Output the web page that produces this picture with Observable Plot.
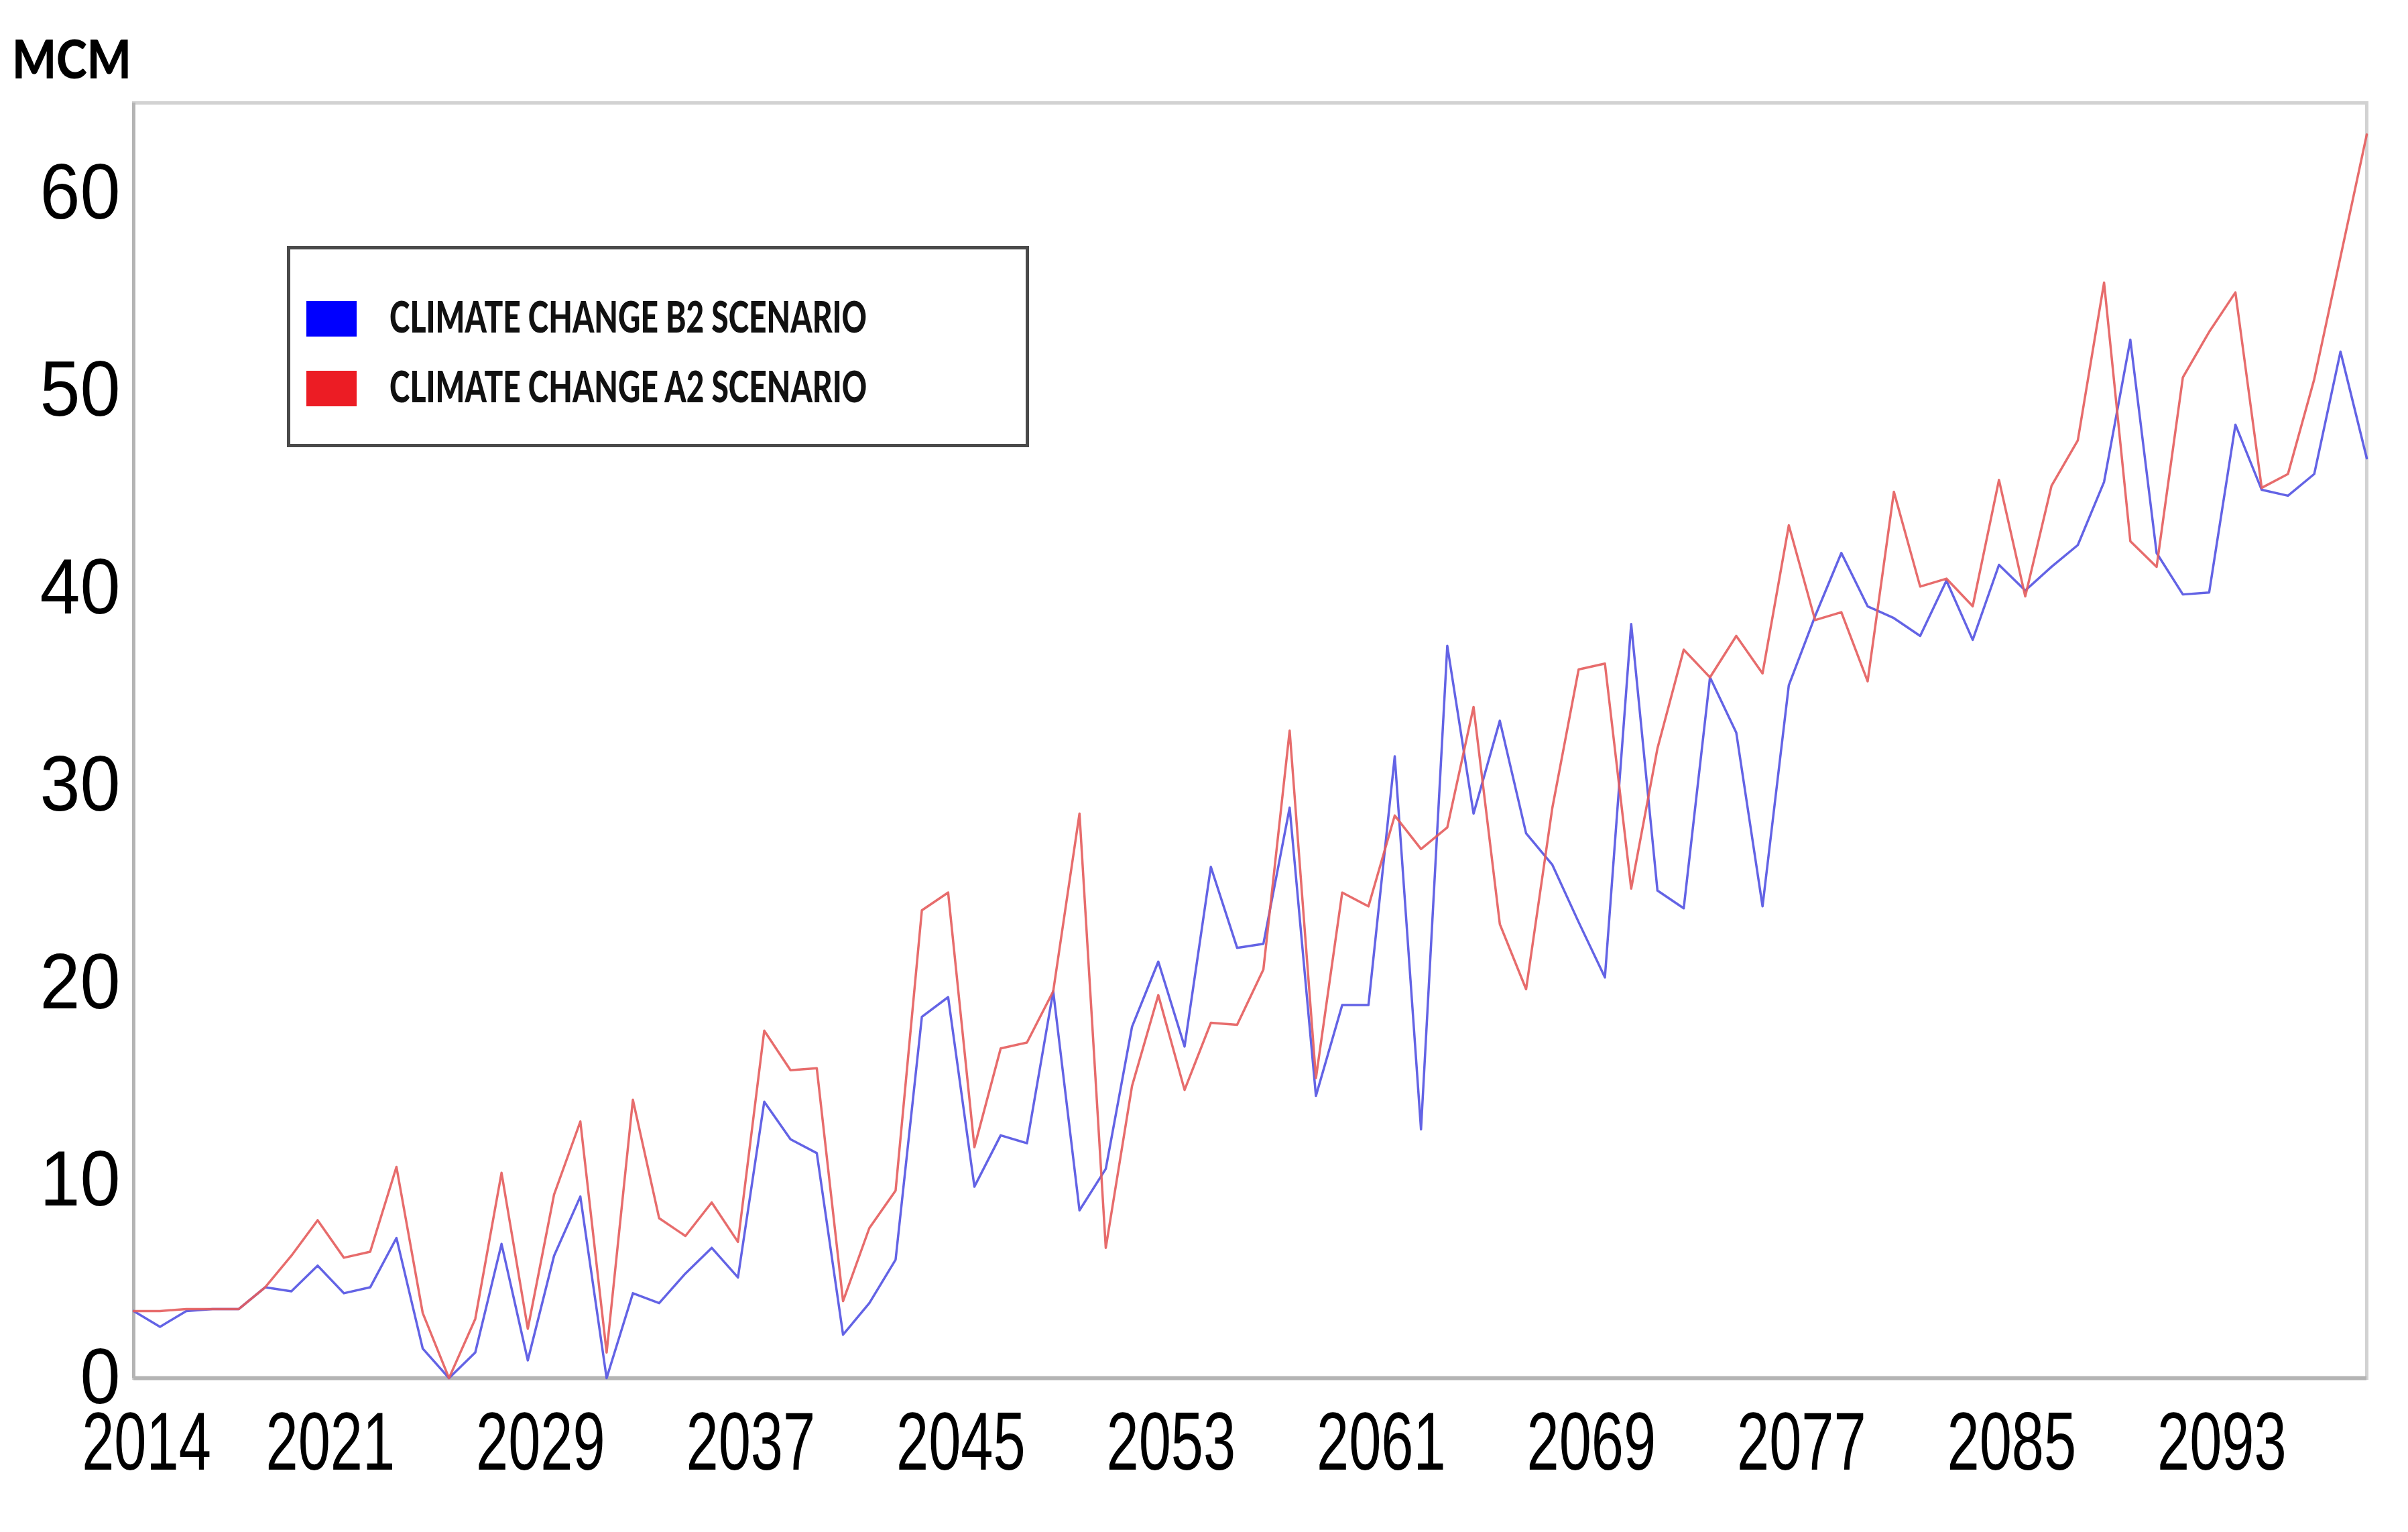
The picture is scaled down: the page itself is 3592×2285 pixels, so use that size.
<!DOCTYPE html>
<html>
<head>
<meta charset="utf-8">
<script src="https://cdn.jsdelivr.net/npm/d3@7"></script>
<script src="https://cdn.jsdelivr.net/npm/@observablehq/plot@0.6"></script>
<style>
  html, body { margin: 0; padding: 0; background: #fff; }
  #wrap { position: relative; width: 3592px; height: 2285px; overflow: hidden; background: #fff; }
  #head { position: relative; height: 130px; }
  #unit { position: absolute; left: 18px; top: 46px; font: 900 80px Lato, "Open Sans", sans-serif; color: #000; line-height: 1; white-space: nowrap; transform-origin: 0 0; }
  #legend { position: absolute; left: 428px; top: 367px; width: 1107px; height: 300px; border: 5px solid #4a4a4a; box-sizing: border-box; background: #fff; }
  .sw { position: absolute; left: 24px; width: 75px; height: 53px; }
  .lt { position: absolute; left: 148px; font: 900 64px Lato, "Open Sans", sans-serif; color: #111; line-height: 1; white-space: nowrap; transform-origin: 0 50%; }
  #chart svg { display: block; }
</style>
</head>
<body>
<div id="wrap">
  <div id="head"><div id="unit">MCM</div></div>
  <div id="chart"></div>
  <div id="legend"></div>
</div>
<script>
// ---- data ----
const years = [2014,2015,2016,2017,2018,2019,2020,2021,2022,2023,2024,2025,2026,2027,2028,2029,2030,2031,2032,2033,
  2034,2035,2036,2037,2038,2039,2040,2041,2042,2043,2044,2045,2046,2047,2048,2049,2050,2051,2052,2053,
  2054,2055,2056,2057,2058,2059,2060,2061,2062,2063,2064,2065,2066,2067,2068,2069,2070,2071,2072,2073,
  2074,2075,2076,2077,2078,2079,2080,2081,2082,2083,2084,2085,2086,2087,2088,2089,2090,2091,2092,2093,
  2094,2095,2096,2097,2098,2099];

const b2Values = [3.4,2.6,3.4,3.5,3.5,4.6,4.4,5.7,4.3,4.6,7.1,1.5,0,1.3,6.8,0.9,6.2,9.2,0,4.3,
  3.8,5.3,6.6,5.1,14.0,12.1,11.4,2.2,3.8,6.0,18.3,19.3,9.7,12.3,11.9,19.6,8.5,10.6,17.8,21.1,
  16.8,25.9,21.8,22.0,28.9,14.3,18.9,18.9,31.5,12.6,37.1,28.6,33.3,27.6,26.0,23.1,20.3,38.2,24.7,23.8,
  35.5,32.7,23.9,35.1,38.6,41.8,39.1,38.5,37.6,40.4,37.4,41.2,39.9,41.1,42.2,45.4,52.6,41.8,39.7,39.8,
  48.3,45.0,44.7,45.8,52.0,46.6];

const a2Values = [3.4,3.4,3.5,3.5,3.5,4.6,6.2,8.0,6.1,6.4,10.7,3.3,0,3.0,10.4,2.5,9.3,13.0,1.3,14.1,
  8.1,7.2,8.9,6.9,17.6,15.6,15.7,3.9,7.6,9.5,23.7,24.6,11.7,16.7,17.0,19.6,28.6,6.6,14.8,19.4,
  14.6,18.0,17.9,20.7,32.8,15.2,24.6,23.9,28.5,26.8,27.9,34.0,23.0,19.7,28.9,35.9,36.2,24.8,31.9,36.9,
  35.5,37.6,35.7,43.2,38.4,38.8,35.3,44.9,40.1,40.5,39.1,45.5,39.6,45.2,47.5,55.5,42.4,41.1,50.7,53.0,
  55.0,45.1,45.8,50.6,56.8,63.0];

const xTicks = [2014,2021,2029,2037,2045,2053,2061,2069,2077,2085,2093];
const yTicks = [0,10,20,30,40,50,60];
const seriesNames = ["CLIMATE CHANGE B2 SCENARIO", "CLIMATE CHANGE A2 SCENARIO"];
const seriesColors = ["#5252e2", "#e45c5c"];
const swatchColors = ["#0000ff", "#ec1c24"];
const unitLabel = "MCM";

// ---- tables ----
const b2Rows = years.map((y, i) => ({year: y, value: b2Values[i]}));
const a2Rows = years.map((y, i) => ({year: y, value: a2Values[i]}));

const chart = Plot.plot({
  width: 3592,
  height: 2155,
  marginTop: 23,
  marginBottom: 230,
  marginLeft: 199,
  marginRight: 62,
  style: {fontFamily: "'Liberation Sans', Arial, sans-serif", color: "#000", background: "#fff"},
  x: {domain: [2014, 2099], label: null},
  y: {domain: [0, 64.6], label: null},
  marks: [
    Plot.frame({stroke: "#d2d2d2", strokeWidth: 5}),
    Plot.ruleY([0], {stroke: "#b4b4b4", strokeWidth: 6}),
    Plot.ruleX([2014], {stroke: "#b4b4b4", strokeWidth: 5}),
    Plot.axisX({ticks: xTicks, tickFormat: d => String(d), tickSize: 0, tickPadding: 50, fontSize: 122, dx: 19, label: null}),
    Plot.axisY({ticks: yTicks, tickSize: 0, tickPadding: 20, fontSize: 116, label: null}),
    Plot.lineY(b2Rows, {x: "year", y: "value", stroke: seriesColors[0], strokeWidth: 3.5, strokeOpacity: 0.9}),
    Plot.lineY(a2Rows, {x: "year", y: "value", stroke: seriesColors[1], strokeWidth: 3.5, strokeOpacity: 0.9})
  ]
});
document.getElementById("chart").appendChild(chart);

// condense tick labels like the reference's narrow digits
chart.querySelectorAll('g[aria-label="x-axis tick label"] text').forEach(t => {
  const L = t.getComputedTextLength();
  t.setAttribute("textLength", (L * 0.71).toFixed(1));
  t.setAttribute("lengthAdjust", "spacingAndGlyphs");
});
chart.querySelectorAll('g[aria-label="y-axis tick label"] text').forEach(t => {
  const L = t.getComputedTextLength();
  t.setAttribute("textLength", (L * 0.93).toFixed(1));
  t.setAttribute("lengthAdjust", "spacingAndGlyphs");
});

// unit label
const unit = document.getElementById("unit");
unit.textContent = unitLabel;
{
  const w = unit.getBoundingClientRect().width;
  unit.style.transform = `scaleX(${(178 / w).toFixed(3)})`;
}

// legend
const legend = document.getElementById("legend");
const swTops = [77, 181];
const txtCenters = [100, 204];
const txtWidths = [712, 712];
seriesNames.forEach((name, i) => {
  const sw = document.createElement("div");
  sw.className = "sw";
  sw.style.top = swTops[i] + "px";
  sw.style.background = swatchColors[i];
  legend.appendChild(sw);
  const t = document.createElement("div");
  t.className = "lt";
  t.textContent = name;
  legend.appendChild(t);
  const r = t.getBoundingClientRect();
  t.style.top = (txtCenters[i] - r.height / 2) + "px";
  t.style.transform = `scaleX(${(txtWidths[i] / r.width).toFixed(3)})`;
});
</script>
</body>
</html>
